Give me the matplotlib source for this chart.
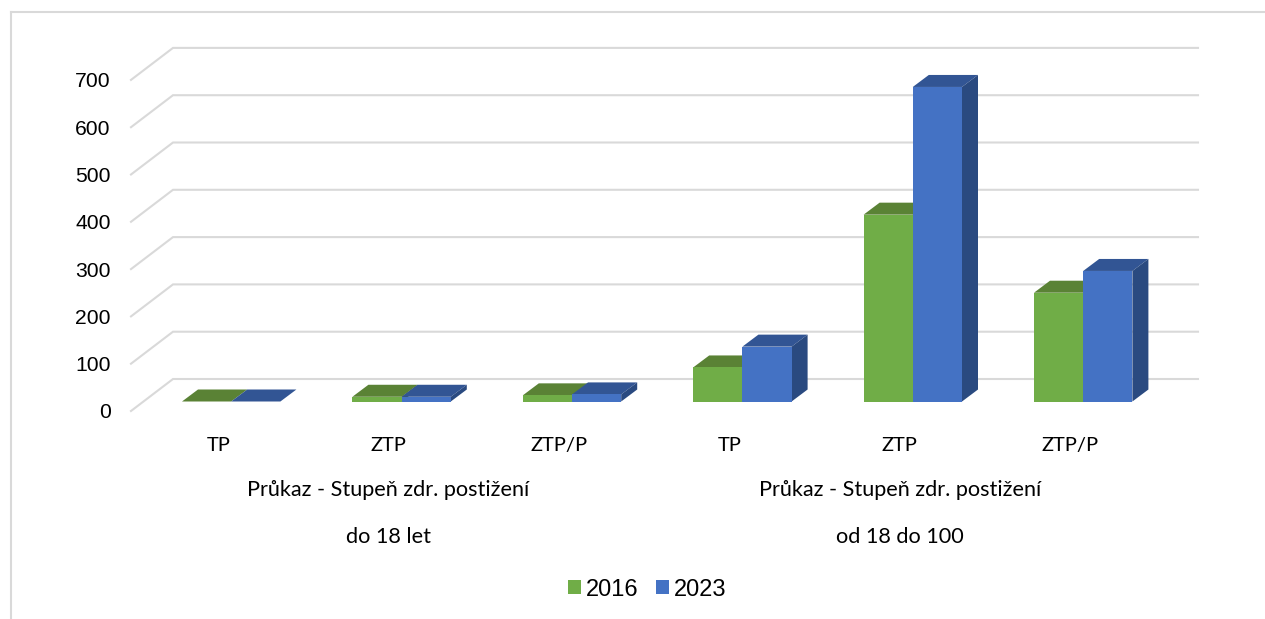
import matplotlib
matplotlib.use("Agg")
import matplotlib.pyplot as plt
from matplotlib.lines import Line2D
from matplotlib.patches import Patch, Polygon

categories = ["TP", "ZTP", "ZTP/P", "TP", "ZTP", "ZTP/P"]
series_2016 = [0, 10, 13, 72, 395, 230]
series_2023 = [0, 10, 15, 116, 665, 276]
y_ticks = [0, 100, 200, 300, 400, 500, 600, 700]
group_label = "Průkaz - Stupeň zdr. postižení"
age_groups = ["do 18 let", "od 18 do 100"]
legend_labels = ["2016", "2023"]

W, H = 1265, 619
PX_X = 170.4            # pixels per category
PX_Y = 47.3 / 100       # pixels per value unit
GRID = "#d9d9d9"
GREEN = ("#70ad47", "#5a8235", "#43622a")
BLUE = ("#4472c4", "#325594", "#2a4a80")
SANS = ["Liberation Sans", "DejaVu Sans"]
LABEL = ["Lato", "DejaVu Sans"]

fig = plt.figure(figsize=(W / 100, H / 100), dpi=100)
ax = fig.add_axes([133 / W, (H - 411) / H, 6 * PX_X / W, 700 * PX_Y / H])
ax.set_xlim(0, 6)
ax.set_ylim(0, 700)
ax.patch.set_visible(False)
for s in ax.spines.values():
    s.set_visible(False)

# outer chart frame
fig.add_artist(Line2D([11 / W, 11 / W], [0, 1 - 12 / H], color=GRID, lw=1.5))
fig.add_artist(Line2D([11 / W, 1], [1 - 12 / H, 1 - 12 / H], color=GRID, lw=1.5))

# floor/wall depth, in axis units
wall_dx, wall_dy = 40 / PX_X, 32 / PX_Y
front_dx = -2 / PX_X
right_x = 6 + 42.6 / PX_X

for v in y_ticks:
    ax.plot([front_dx, wall_dx, right_x], [v, v + wall_dy, v + wall_dy],
            color=GRID, lw=1.5, clip_on=False, zorder=1, solid_joinstyle="miter")

# bars: front plane sits part-way into the floor
plane_dx, plane_dy = 13 / PX_X, 9.5 / PX_Y
bar_w = 49.2 / PX_X
depth_dx, depth_dy = 16 / PX_X, 12 / PX_Y


def draw_bar(left, value, colors, z):
    l = left + plane_dx
    r = l + bar_w
    b = plane_dy
    t = plane_dy + value
    ax.bar(l, value, bar_w, bottom=b, align="edge", color=colors[0],
           linewidth=0, clip_on=False, zorder=z + 0.2)
    ax.add_patch(Polygon([(l, t), (r, t), (r + depth_dx, t + depth_dy), (l + depth_dx, t + depth_dy)],
                         closed=True, fc=colors[1], ec="none", clip_on=False, zorder=z))
    ax.add_patch(Polygon([(r, b), (r, t), (r + depth_dx, t + depth_dy), (r + depth_dx, b + depth_dy)],
                         closed=True, fc=colors[2], ec="none", clip_on=False, zorder=z + 0.1))


for i, (a, b) in enumerate(zip(series_2016, series_2023)):
    c = i + 0.5
    draw_bar(c - bar_w, a, GREEN, 2 + i)
    draw_bar(c, b, BLUE, 2.5 + i)

ax.set_yticks(y_ticks)
ax.set_yticklabels([str(v) for v in y_ticks], family=SANS, fontsize=15.2, color="black")
ax.set_xticks([i + 0.5 for i in range(len(categories))])
ax.set_xticklabels(categories, family=LABEL, fontsize=14.5, color="black")
ax.tick_params(axis="y", length=0, pad=16)
ax.tick_params(axis="x", length=0, pad=19)

for xc, age in zip([1.5, 4.5], age_groups):
    ax.text(xc, -79 / PX_Y, group_label, ha="center", va="center",
            family=LABEL, fontsize=15.6, color="black")
    ax.text(xc, -126 / PX_Y, age, ha="center", va="center",
            family=LABEL, fontsize=15.6, color="black")

handles = [Patch(fc=GREEN[0], ec="none"), Patch(fc=BLUE[0], ec="none")]
fig.legend(handles, legend_labels, loc="center", bbox_to_anchor=(647.5 / W, 1 - 589.5 / H),
           ncol=2, frameon=False, prop={"family": SANS, "size": 17},
           handlelength=0.55, handleheight=0.55, handletextpad=0.2, columnspacing=0.75)

fig.savefig("out.png", dpi=100)
